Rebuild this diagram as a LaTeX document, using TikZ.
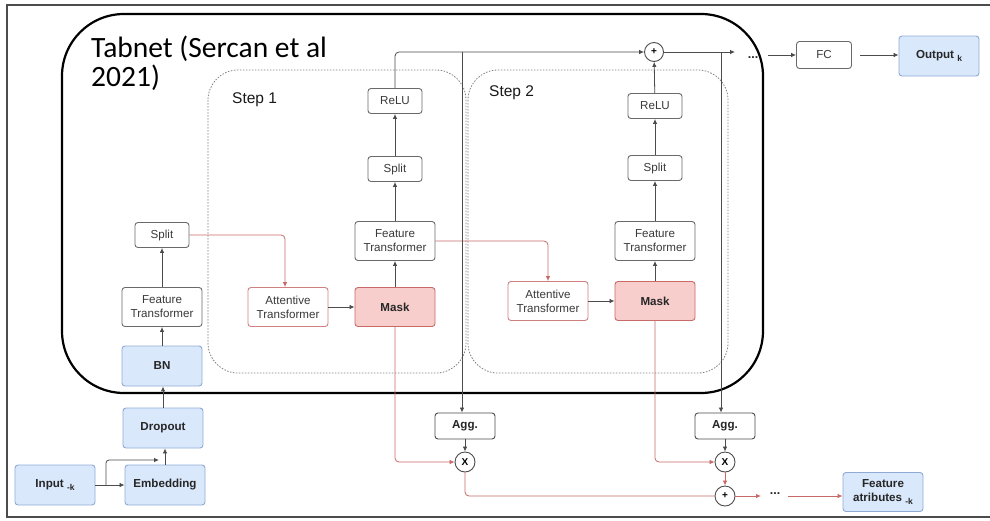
\documentclass[tikz,border=0pt]{standalone}
\usepackage{fontspec}
\setmainfont{Liberation Sans}
\newfontfamily\titlefont{Carlito}
\usetikzlibrary{arrows.meta}

\definecolor{bluefill}{HTML}{DAE8FC}
\definecolor{blueline}{HTML}{8FAAD6}
\definecolor{redfill}{HTML}{F8CECC}
\definecolor{redline}{HTML}{C76A68}
\definecolor{boxline}{HTML}{6A6A6A}
\definecolor{txtgray}{HTML}{3A3A3A}

\newcommand\lowsub[1]{\raisebox{-2.5pt}{\fontsize{8.5}{8.5}\selectfont #1}}

\tikzset{
  box/.style={draw=boxline, line width=0.9pt, rounded corners=3pt, fill=white,
    align=center, inner sep=0pt, text=txtgray, font=\fontsize{11.6}{14}\selectfont},
  smallbox/.style={box, minimum width=54pt, minimum height=25pt},
  ftbox/.style={box, minimum width=80pt, minimum height=39pt},
  bluebox/.style={box, draw=blueline, fill=bluefill, text=black!85,
    font=\bfseries\fontsize{11.6}{14}\selectfont, minimum width=80pt, minimum height=40pt},
  attbox/.style={ftbox, draw=redline!85},
  maskbox/.style={ftbox, draw=redline, fill=redfill, text=black!85,
    font=\bfseries\fontsize{11.6}{14}\selectfont},
  aggbox/.style={box, draw=black!70, text=black!85,
    font=\bfseries\fontsize{11.6}{14}\selectfont, minimum width=60pt, minimum height=26pt},
  opcirc/.style={circle, draw=black!70, line width=0.9pt, fill=white, inner sep=0pt,
    minimum size=20pt, font=\bfseries\fontsize{10}{10}\selectfont},
  arr/.style={draw=black!70, line width=0.8pt, -{Latex[length=5pt,width=4.5pt]}},
  redarr/.style={arr, draw=redline},
  redln/.style={draw=redline, line width=0.8pt},
  stepframe/.style={draw=black!50, dash pattern=on 1.5pt off 1.5pt, line width=0.8pt,
    rounded corners=30pt},
  dotsl/.style={font=\bfseries\fontsize{12.5}{12.5}\selectfont, inner sep=0pt, text=black!85},
  steplabel/.style={font=\fontsize{15.5}{17}\selectfont, anchor=base west, inner sep=0pt, text=black!90},
  titletext/.style={font=\titlefont\fontsize{29.5}{32}\selectfont, anchor=base west, inner sep=0pt}
}

\begin{document}
\begin{tikzpicture}[x=1pt,y=-1pt]
\clip (0,0) rectangle (990,520);
\fill[white] (0,0) rectangle (990,520);

% outer page frame
\draw[black!70, line width=1.5pt] (7,5) rectangle (1000,517);

% TabNet encoder block
\draw[black, line width=2.2pt, rounded corners=62pt] (62,14) rectangle (763,393);
\node[titletext] (title1) at (91,57) {Tabnet (Sercan et al};
\node[titletext] (title2) at (91,86) {2021)};

% decision steps
\draw[stepframe] (208,70) rectangle (466,373);
\draw[stepframe] (468,70) rectangle (728,373);
\node[steplabel] (step1) at (232,103) {Step 1};
\node[steplabel] (step2) at (489,96) {Step 2};

% input stage
\node[bluebox] (input) at (55,485) {Input \lowsub{-k}};
\node[bluebox] (emb) at (165,485) {Embedding};
\node[bluebox] (drop) at (163,428) {Dropout};
\node[bluebox] (bn) at (162,366) {BN};
\node[ftbox] (ft0) at (162,307) {Feature\\Transformer};
\node[smallbox] (split0) at (162,235) {Split};

% step 1
\node[attbox] (att1) at (288,307) {Attentive\\Transformer};
\node[maskbox] (mask1) at (395,307) {Mask};
\node[ftbox] (ft1) at (395,241) {Feature\\Transformer};
\node[smallbox] (split1) at (395,169) {Split};
\node[smallbox] (relu1) at (395,101) {ReLU};

% step 2
\node[attbox] (att2) at (548,301) {Attentive\\Transformer};
\node[maskbox] (mask2) at (655,301) {Mask};
\node[ftbox] (ft2) at (655,241) {Feature\\Transformer};
\node[smallbox] (split2) at (655,168) {Split};
\node[smallbox] (relu2) at (655,106) {ReLU};

% output head
\node[opcirc, minimum size=19pt] (plus1) at (654,52) {+};
\node[dotsl] (dots1) at (753,58) {...};
\node[smallbox, minimum width=55pt, minimum height=27pt] (fc) at (824,55) {FC};
\node[bluebox] (out) at (939,56) {Output \lowsub{k}};

% feature attribution branch
\node[aggbox] (agg1) at (465,426) {Agg.};
\node[aggbox] (agg2) at (725,426) {Agg.};
\node[opcirc] (x1) at (465,462) {X};
\node[opcirc] (x2) at (725,462) {X};
\node[opcirc] (plus2) at (725,496) {+};
\node[dotsl] (dots2) at (775,494) {...};
\node[bluebox, minimum height=39pt] (fa) at (883,492) {Feature\\atributes \lowsub{-k}};

\coordinate (fork) at (106,485);
\coordinate (join) at (159,460);
\coordinate (tap1) at (462,52);
\coordinate (tap2) at (721,52);
\coordinate (topend) at (735,52);
\coordinate (fcin) at (768,55);
\coordinate (fcout) at (860,55);
\coordinate (botend) at (761,496);
\coordinate (fain) at (788,496);

% main path connectors
\draw[arr] (input) -- (emb);
\draw[arr, rounded corners=3pt] (fork) |- (join);
\draw[arr] (emb) -- (emb |- drop.south);
\draw[arr] (drop) -- (drop |- bn.south);
\draw[arr] (bn) -- (ft0);
\draw[arr] (ft0) -- (split0);
\draw[redarr, rounded corners=4pt] (split0.east) -| ([xshift=-3pt]att1.north);
\draw[arr] (att1) -- (mask1);
\draw[arr] (mask1) -- (ft1);
\draw[arr] (ft1) -- (split1);
\draw[arr] (split1) -- (relu1);
\draw[arr, rounded corners=4pt] (relu1.north) |- (plus1.west);
\draw[redarr, rounded corners=4pt] (ft1.east) -| (att2.north);
\draw[arr] (att2) -- (mask2);
\draw[arr] (mask2) -- (ft2);
\draw[arr] (ft2) -- (split2);
\draw[arr] (split2) -- (relu2);
\draw[arr] (relu2) -- (plus1);
\draw[arr] (plus1.east) -- (topend);
\draw[arr] (fcin) -- (fc.west);
\draw[arr] (fcout) -- (out.west |- fcout);

% attribution connectors
\draw[arr] (tap1) -- (tap1 |- agg1.north);
\draw[arr] (tap2) -- (tap2 |- agg2.north);
\draw[arr] (agg1) -- (x1);
\draw[arr] (agg2) -- (x2);
\draw[redarr, rounded corners=4pt] (mask1.south) |- (x1.west);
\draw[redarr, rounded corners=4pt] (mask2.south) |- (x2.west);
\draw[redln, rounded corners=4pt] (x1.south) |- (plus2.west);
\draw[redarr] (x2) -- (plus2);
\draw[redarr] (plus2.east) -- (botend);
\draw[redarr] (fain) -- (fa.west |- fain);
\end{tikzpicture}
\end{document}
